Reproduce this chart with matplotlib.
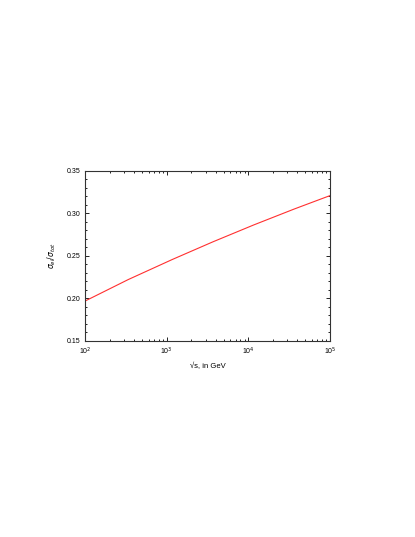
import numpy as np
import matplotlib
matplotlib.use('Agg')
import matplotlib.pyplot as plt
from matplotlib.ticker import LogLocator, MultipleLocator, FixedLocator

# sqrt(s) in GeV and sigma_el/sigma_tot
sqrt_s = [1e2, 10**2.5, 1e3, 10**3.5, 1e4, 10**4.5, 1e5]
ratio = [0.197, 0.221, 0.243, 0.264, 0.284, 0.303, 0.321]

plt.rcParams['font.family'] = ['Liberation Sans', 'DejaVu Sans']

fig = plt.figure(figsize=(4.15, 5.37), dpi=100)
ax = fig.add_axes([0.205, 0.365, 0.590, 0.3166])

# smooth curve through the read points
xs = np.logspace(2, 5, 200)
ys = np.interp(np.log10(xs), np.log10(sqrt_s), ratio)
ax.plot(xs, ys, color='#ff3030', lw=0.8)

ax.set_xscale('log')
ax.set_xlim(1e2, 1e5)
ax.set_ylim(0.15, 0.35)
ax.yaxis.set_major_locator(MultipleLocator(0.05))
ax.yaxis.set_minor_locator(MultipleLocator(0.01))
ax.xaxis.set_major_locator(FixedLocator([1e2, 1e3, 1e4, 1e5]))
ax.xaxis.set_minor_locator(LogLocator(base=10, subs=np.arange(2, 10)))
ax.set_xticklabels([r'10$^2$', r'10$^3$', r'10$^4$', r'10$^5$'])
ax.set_yticks([0.15, 0.20, 0.25, 0.30, 0.35])
ax.set_yticklabels(['0.15', '0.20', '0.25', '0.30', '0.35'])

ax.tick_params(which='both', direction='in', top=True, right=True, labelsize=5, width=0.6)
ax.tick_params(which='major', length=3)
ax.tick_params(which='minor', length=1.5)
for s in ax.spines.values():
    s.set_linewidth(0.8)
    s.set_color('#333333')

ax.set_xlabel('\u221as, in GeV', fontsize=5.5, labelpad=4)
ax.set_ylabel(r'$\sigma_{el}/\sigma_{tot}$', fontsize=5.5, labelpad=6)

fig.savefig('out.png', dpi=100)
